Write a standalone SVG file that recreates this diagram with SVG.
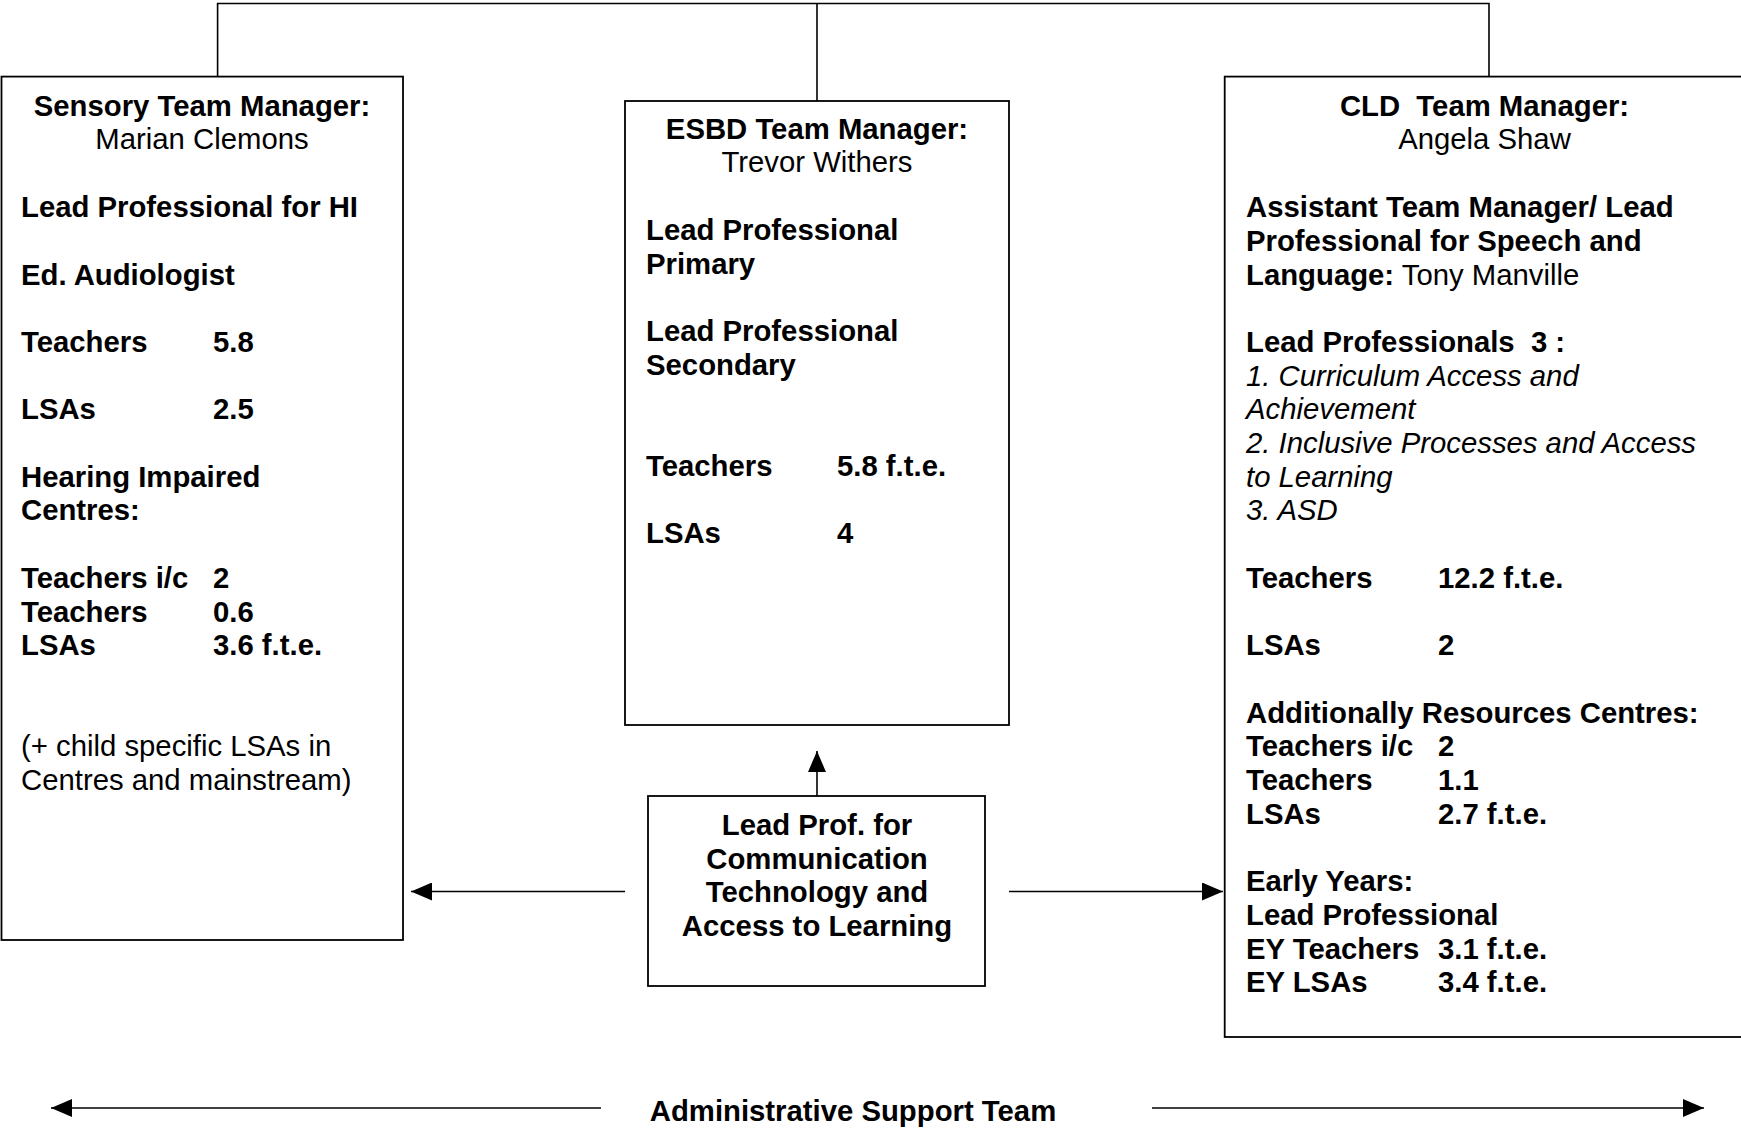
<svg xmlns="http://www.w3.org/2000/svg" width="1741" height="1128" viewBox="0 0 1741 1128">
<defs>
<style>
text{font-family:"Liberation Sans",Arial,sans-serif;font-size:29.3px;fill:#000;white-space:pre}
.b{font-weight:bold}
.i{font-style:italic}
.c{text-anchor:middle}
.box{fill:#fff;stroke:#000;stroke-width:1.8}
.ln{fill:none;stroke:#000;stroke-width:1.6}
</style>
<marker id="ah" markerUnits="userSpaceOnUse" markerWidth="23" markerHeight="18" refX="21" refY="9" orient="auto">
<path d="M0,0 L21,9 L0,18 Z" fill="#000"/>
</marker>
</defs>
<rect width="1741" height="1128" fill="#fff"/>
<g id="connectors">
<path class="ln" d="M217.6,76.6 V3.5 H1489 V76.6"/>
<path class="ln" d="M817,3.5 V101"/>
<path class="ln" d="M817,796 V751" marker-end="url(#ah)"/>
<path class="ln" d="M625,891.5 H411" marker-end="url(#ah)"/>
<path class="ln" d="M1009,891.5 H1223" marker-end="url(#ah)"/>
<path class="ln" d="M601,1108 H51" marker-end="url(#ah)"/>
<path class="ln" d="M1152,1108 H1704" marker-end="url(#ah)"/>
</g>
<g id="sensory">
<rect class="box" x="1.5" y="76.6" width="401.5" height="863.4"/>
<text class="b c" x="202" y="116">Sensory Team Manager:</text>
<text class="c" x="202" y="149">Marian Clemons</text>
<text class="b" x="21" y="217.1">Lead Professional for HI</text>
<text class="b" x="21" y="284.5">Ed. Audiologist</text>
<text class="b" x="21" y="351.9">Teachers</text><text class="b" x="213" y="351.9">5.8</text>
<text class="b" x="21" y="419.3">LSAs</text><text class="b" x="213" y="419.3">2.5</text>
<text class="b" x="21" y="486.7">Hearing Impaired</text>
<text class="b" x="21" y="520.4">Centres:</text>
<text class="b" x="21" y="587.8">Teachers i/c</text><text class="b" x="213" y="587.8">2</text>
<text class="b" x="21" y="621.5">Teachers</text><text class="b" x="213" y="621.5">0.6</text>
<text class="b" x="21" y="655.2">LSAs</text><text class="b" x="213" y="655.2">3.6 f.t.e.</text>
<text x="21" y="756.3">(+ child specific LSAs in</text>
<text x="21" y="790">Centres and mainstream)</text>
</g>
<g id="esbd">
<rect class="box" x="625" y="101" width="384" height="624"/>
<text class="b c" x="817" y="139">ESBD Team Manager:</text>
<text class="c" x="817" y="172">Trevor Withers</text>
<text class="b" x="646" y="240.1">Lead Professional</text>
<text class="b" x="646" y="273.8">Primary</text>
<text class="b" x="646" y="341.2">Lead Professional</text>
<text class="b" x="646" y="374.9">Secondary</text>
<text class="b" x="646" y="476">Teachers</text><text class="b" x="837" y="476">5.8 f.t.e.</text>
<text class="b" x="646" y="543.4">LSAs</text><text class="b" x="837" y="543.4">4</text>
</g>
<g id="cld">
<rect class="box" x="1224.7" y="76.6" width="520" height="960.4"/>
<text class="b c" x="1484.5" y="116">CLD  Team Manager:</text>
<text class="c" x="1484.5" y="149">Angela Shaw</text>
<text class="b" x="1246" y="217.1">Assistant Team Manager/ Lead</text>
<text class="b" x="1246" y="250.8">Professional for Speech and</text>
<text x="1246" y="284.5"><tspan class="b">Language:</tspan> Tony Manville</text>
<text class="b" x="1246" y="351.9">Lead Professionals  3 :</text>
<text class="i" x="1246" y="385.6">1. Curriculum Access and</text>
<text class="i" x="1246" y="419.3">Achievement</text>
<text class="i" x="1246" y="453">2. Inclusive Processes and Access</text>
<text class="i" x="1246" y="486.7">to Learning</text>
<text class="i" x="1246" y="520.4">3. ASD</text>
<text class="b" x="1246" y="587.8">Teachers</text><text class="b" x="1438" y="587.8">12.2 f.t.e.</text>
<text class="b" x="1246" y="655.2">LSAs</text><text class="b" x="1438" y="655.2">2</text>
<text class="b" x="1246" y="722.6">Additionally Resources Centres:</text>
<text class="b" x="1246" y="756.3">Teachers i/c</text><text class="b" x="1438" y="756.3">2</text>
<text class="b" x="1246" y="790">Teachers</text><text class="b" x="1438" y="790">1.1</text>
<text class="b" x="1246" y="823.7">LSAs</text><text class="b" x="1438" y="823.7">2.7 f.t.e.</text>
<text class="b" x="1246" y="891.1">Early Years:</text>
<text class="b" x="1246" y="924.8">Lead Professional</text>
<text class="b" x="1246" y="958.5">EY Teachers</text><text class="b" x="1438" y="958.5">3.1 f.t.e.</text>
<text class="b" x="1246" y="992.2">EY LSAs</text><text class="b" x="1438" y="992.2">3.4 f.t.e.</text>
</g>
<g id="commtech">
<rect class="box" x="648" y="796" width="337" height="190"/>
<text class="b c" x="817" y="835">Lead Prof. for</text>
<text class="b c" x="817" y="868.7">Communication</text>
<text class="b c" x="817" y="902.4">Technology and</text>
<text class="b c" x="817" y="936.1">Access to Learning</text>
</g>
<g id="admin">
<text class="b c" x="853" y="1121">Administrative Support Team</text>
</g>
</svg>
